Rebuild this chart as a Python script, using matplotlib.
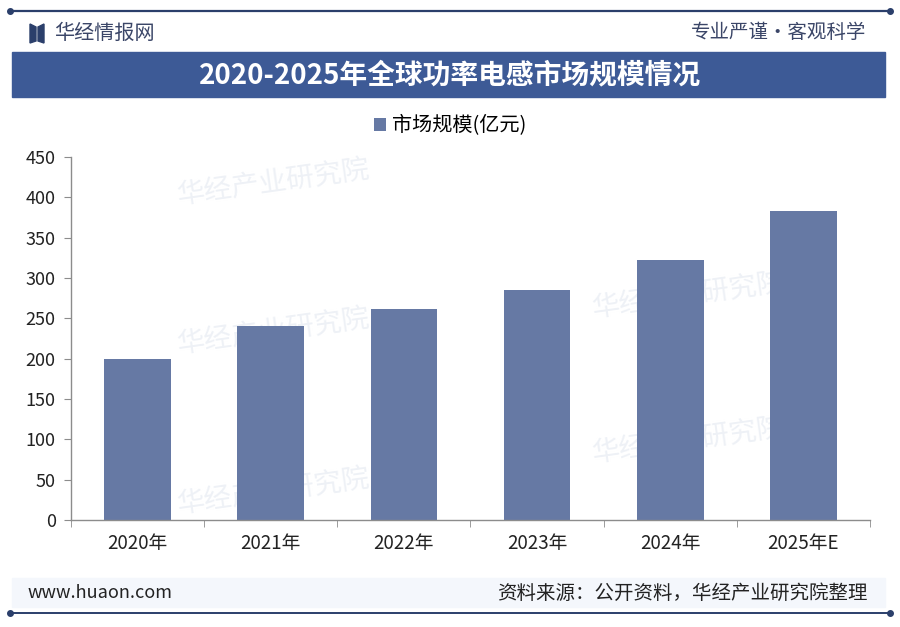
import matplotlib.pyplot as plt
from matplotlib.patches import Rectangle, Polygon
from matplotlib.lines import Line2D

plt.rcParams['font.family'] = ['Noto Sans CJK SC', 'DejaVu Sans']

years = ["2020年", "2021年", "2022年", "2023年", "2024年", "2025年E"]
market = [200, 240, 261, 285, 322, 383]
yticks = [0, 50, 100, 150, 200, 250, 300, 350, 400, 450]

bar_color = "#6679a4"
band_color = "#3d5a96"
navy = "#2b3f6b"
axis_gray = "#8c8c8c"

fig = plt.figure(figsize=(9, 6.27), dpi=100)
W, H = 900, 627

def fx(px):
    return px / W

def fy(py):
    return 1 - py / H

# header line
fig.add_artist(Line2D([fx(10), fx(890)], [fy(11), fy(11)], color=navy, lw=1.6))
for xx in (10, 890):
    fig.add_artist(Line2D([fx(xx)], [fy(11)], marker="o", ms=4, color=navy))

# logo
fig.add_artist(Polygon([[fx(30), fy(24)], [fx(36), fy(27)], [fx(36), fy(41)], [fx(30), fy(43)]],
                       closed=True, color=navy, transform=fig.transFigure))
fig.add_artist(Polygon([[fx(38), fy(27)], [fx(44), fy(24)], [fx(44), fy(43)], [fx(38), fy(41)]],
                       closed=True, color=navy, transform=fig.transFigure))
fig.text(fx(54), fy(33), "华经情报网", fontsize=14.5, color="#3b4668", va="center", ha="left")
fig.text(fx(866), fy(33), "专业严谨•客观科学", fontsize=14, color="#3b4668", va="center", ha="right")

# title band
fig.add_artist(Rectangle((fx(12), fy(97)), fx(885) - fx(12), (97 - 52) / H,
                         color=band_color, transform=fig.transFigure))
fig.text(0.5, fy(75), "2020-2025年全球功率电感市场规模情况", fontsize=20, fontweight="bold",
         color="white", ha="center", va="center")

# footer band
fig.add_artist(Rectangle((fx(12), fy(607)), fx(885) - fx(12), (607 - 578) / H,
                         color="#f4f7fc", transform=fig.transFigure, zorder=-2))

ax = fig.add_axes([fx(71), fy(520), (870 - 71) / W, (520 - 157) / H])
ax.set_facecolor("none")

# faint watermarks behind the bars
for (wx, wy) in [(0.13, 0.93), (0.65, 0.62), (0.13, 0.52), (0.65, 0.22), (0.13, 0.08)]:
    ax.text(wx, wy, "华经产业研究院", transform=ax.transAxes, fontsize=20, color="#eef1f6",
            ha="left", va="center", rotation=8, zorder=0)

x = list(range(len(years)))
bars = ax.bar(x, market, width=0.5, color=bar_color, label="市场规模(亿元)", zorder=2)

ax.set_xlim(-0.5, len(years) - 0.5)
ax.set_ylim(0, 450)
ax.set_yticks(yticks)
ax.set_yticklabels([str(v) for v in yticks], fontsize=13, color="#222222")
ax.set_xticks(x)
ax.set_xticklabels(years, fontsize=13.5, color="#222222")
ax.set_xticks([i - 0.5 for i in range(len(years) + 1)], minor=True)
ax.tick_params(axis="x", which="major", length=0, pad=9)
ax.tick_params(axis="x", which="minor", length=5, color=axis_gray, direction="out")
ax.tick_params(axis="y", length=5, color=axis_gray, direction="out", pad=6)
for s in ("top", "right"):
    ax.spines[s].set_visible(False)
for s in ("left", "bottom"):
    ax.spines[s].set_color(axis_gray)
    ax.spines[s].set_linewidth(1.0)

fig.legend(handles=[bars], labels=["市场规模(亿元)"], loc="center", bbox_to_anchor=(0.5, fy(126)),
           frameon=False, fontsize=14.5, handlelength=0.6, handleheight=0.6, handletextpad=0.3)

# footer
fig.text(fx(28), fy(593), "www.huaon.com", fontsize=13, color="#222222", ha="left", va="center")
fig.text(fx(868), fy(593), "资料来源：公开资料，华经产业研究院整理", fontsize=14, color="#222222",
         ha="right", va="center")
fig.add_artist(Line2D([fx(10), fx(890)], [fy(613), fy(613)], color=navy, lw=1.4))
for xx in (10, 890):
    fig.add_artist(Line2D([fx(xx)], [fy(613)], marker="o", ms=4, color=navy))

fig.savefig("out.png", dpi=100)
